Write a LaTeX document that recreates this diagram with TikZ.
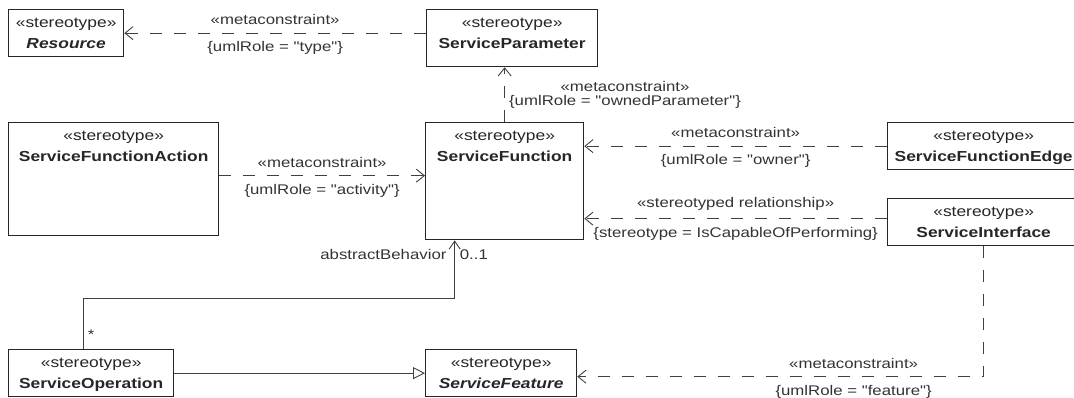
\documentclass[tikz,border=0pt]{standalone}
\usepackage{fontspec}
\setmainfont[FakeStretch=1.2,Ligatures=TeXOff]{Liberation Sans}
\usetikzlibrary{arrows.meta}

% box text: stereotype on top, class name below
\newcommand{\stereo}[3]{\parbox[b][#2][t]{#1}{\centering\rule{0pt}{17.5pt}«stereotype»\\#3}}

\tikzset{
  classbox/.style={draw=black!85, line width=1.3pt, anchor=north west, inner sep=0pt,
    text=black!85, font=\fontsize{14.5}{21}\selectfont},
  meta/.style={draw=black!75, line width=0.9pt, dash pattern=on 12pt off 12pt,
    -{Straight Barb[length=8pt,width=13pt]}},
  assoc/.style={draw=black!75, line width=0.9pt, -{Straight Barb[length=8pt,width=11pt]}},
  general/.style={draw=black!75, line width=0.9pt, -{Triangle[open,length=12pt,width=12pt]}},
  lbl/.style={inner sep=0pt, text=black!80, font=\fontsize{14}{14}\selectfont}
}

\begin{document}
\begin{tikzpicture}[x=1pt,y=-1pt]
  \useasboundingbox (0,0) rectangle (1074,397);

  % classes
  \node[classbox] (res) at (8,9) {\stereo{115pt}{47pt}{\textbf{\textit{Resource}}}};
  \node[classbox] (spar) at (426,9) {\stereo{171pt}{57pt}{\textbf{ServiceParameter}}};
  \node[classbox] (sfa) at (8,122) {\stereo{210pt}{113pt}{\textbf{ServiceFunctionAction}}};
  \node[classbox] (sfun) at (425,122) {\stereo{158pt}{117pt}{\textbf{ServiceFunction}}};
  \node[classbox] (sfe) at (887,122) {\stereo{192pt}{47pt}{\textbf{ServiceFunctionEdge}}};
  \node[classbox] (sint) at (887,198) {\stereo{192pt}{47pt}{\textbf{ServiceInterface}}};
  \node[classbox] (sop) at (8,349) {\stereo{165pt}{47pt}{\textbf{ServiceOperation}}};
  \node[classbox] (sfeat) at (425,349) {\stereo{151pt}{47pt}{\textbf{\textit{ServiceFeature}}}};

  % metaconstraints
  \draw[meta] (spar.west |- res.east) -- node[lbl,above=8pt]{«metaconstraint»}
    node[lbl,below=8pt]{\{umlRole = "type"\}} (res.east);
  \draw[meta] (sfun.north) -- node[lbl,right=4pt,align=center]{«metaconstraint»\\\{umlRole = "ownedParameter"\}}
    (sfun.north |- spar.south);
  \coordinate (sfaout) at ([yshift=3.5pt]sfa.east);
  \draw[meta] (sfaout) -- node[lbl,above=8pt]{«metaconstraint»}
    node[lbl,below=8pt]{\{umlRole = "activity"\}} (sfaout -| sfun.west);
  \draw[meta] (sfe.west) -- node[lbl,above=8pt]{«metaconstraint»}
    node[lbl,below=8pt]{\{umlRole = "owner"\}} (sfe.west -| sfun.east);
  \coordinate (sintout) at ([yshift=3.5pt]sint.west);
  \draw[meta] (sintout) -- node[lbl,above=8pt]{«stereotyped relationship»}
    node[lbl,below=8pt]{\{stereotype = IsCapableOfPerforming\}} (sintout -| sfun.east);
  \draw[meta] (sint.south) |- node[lbl,pos=0.66,above=8pt]{«metaconstraint»}
    node[lbl,pos=0.66,below=8pt]{\{umlRole = "feature"\}} ([yshift=-3.5pt]sfeat.east);

  % generalization
  \draw[general] (sop.east) -- (sop.east -| sfeat.west);

  % association
  \coordinate (abend) at ([xshift=-50pt]sfun.south);
  \draw[assoc] ([xshift=-7.5pt]sop.north) |- ([yshift=-58pt]abend) -- (abend);
  \node[lbl,anchor=east] (abrole) at ([xshift=-8pt,yshift=-14pt]abend) {abstractBehavior};
  \node[lbl,anchor=west] (abmult) at ([xshift=5pt,yshift=-14pt]abend) {0..1};
  \node[lbl] (opmult) at ([yshift=14pt]sop.north) {*};
\end{tikzpicture}
\end{document}
